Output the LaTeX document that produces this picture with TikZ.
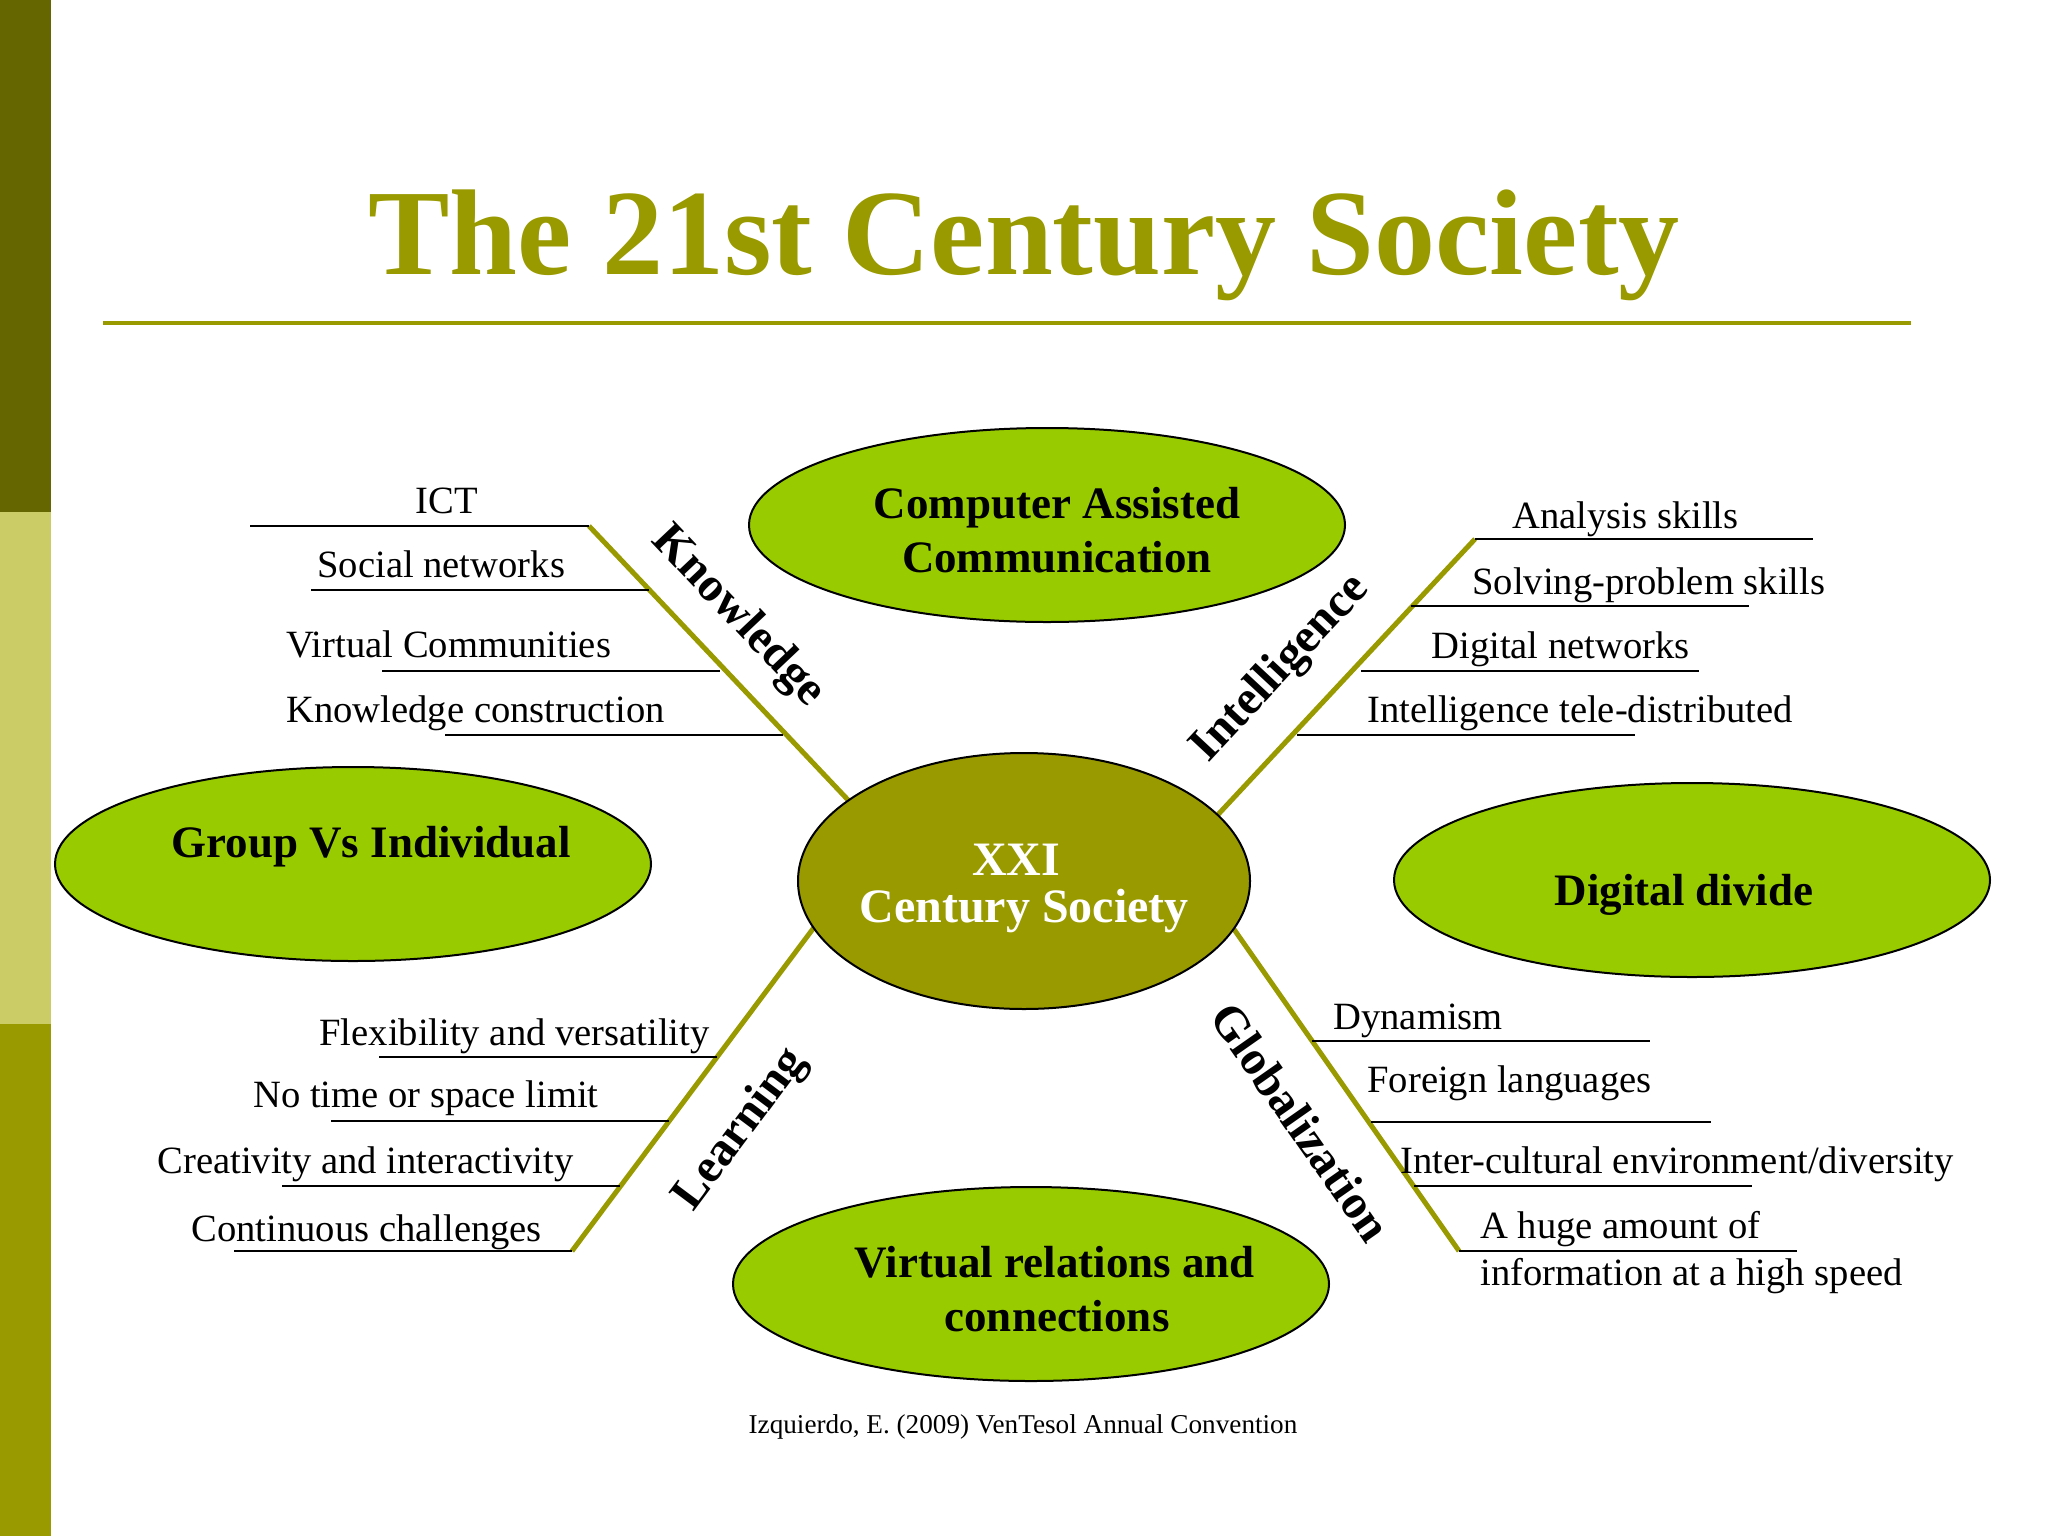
\documentclass[tikz,border=0pt]{standalone}
\usepackage{fontspec}
\setmainfont{Liberation Serif}
\usetikzlibrary{shapes.geometric}
\definecolor{bardark}{HTML}{666600}
\definecolor{barlight}{HTML}{CCCC66}
\definecolor{barmid}{HTML}{999900}
\definecolor{titlec}{HTML}{999900}
\definecolor{branchc}{HTML}{999900}
\definecolor{greenfill}{HTML}{99CC00}
\definecolor{centerfill}{HTML}{999900}
\begin{document}
\begin{tikzpicture}[x=0.5pt,y=-0.5pt,
  item/.style={font=\fontsize{19.3}{23}\selectfont, inner sep=0pt, anchor=base west},
  itemc/.style={font=\fontsize{19.3}{23}\selectfont, inner sep=0pt, anchor=base},
  lbl/.style={font=\fontsize{24}{28}\selectfont\bfseries, inner sep=0pt, anchor=center},
  etext/.style={font=\fontsize{22.5}{27}\selectfont\bfseries, inner sep=0pt, anchor=base},
  ctext/.style={font=\fontsize{24}{28}\selectfont\bfseries, text=white, inner sep=0pt, anchor=base},
  bubble/.style={ellipse, draw=black, line width=1pt, fill=greenfill, minimum width=298pt, minimum height=97pt, inner sep=0pt},
  branch/.style={draw=branchc, line width=2.5pt},
  uline/.style={draw=black, line width=1.2pt}
]
\useasboundingbox (0,0) rectangle (2048,1536);
\fill[white] (0,0) rectangle (2048,1536);
% side bar
\fill[bardark] (0,0) rectangle (51,512);
\fill[barlight] (0,512) rectangle (51,1024);
\fill[barmid] (0,1024) rectangle (51,1536);

% title
\node[font=\fontsize{61}{70}\selectfont\bfseries, text=titlec, inner sep=0pt, anchor=base] (title) at (1024,274) {The 21st Century Society};
\coordinate (ruleL) at (103,323);
\coordinate (ruleR) at (1911,323);
\draw[draw=titlec, line width=2pt] (ruleL) -- (ruleR);

% branch coordinates
\coordinate (kTop) at (589,526);
\coordinate (kIn) at (867,820);
\coordinate (iTop) at (1475,539);
\coordinate (iIn) at (1198,836);
\coordinate (lBot) at (572,1251);
\coordinate (lIn) at (830,906);
\coordinate (gBot) at (1459,1251);
\coordinate (gIn) at (1217,905);

\draw[branch] (kTop) -- (kIn);
\draw[branch] (iTop) -- (iIn);
\draw[branch] (lBot) -- (lIn);
\draw[branch] (gBot) -- (gIn);

% central ellipse
\node[ellipse, draw=black, line width=1pt, fill=centerfill, minimum width=226pt, minimum height=128pt, inner sep=0pt] (center) at (1024,881) {};
\node[ctext] (cxxi) at (1016,875) {XXI};
\node[ctext] (ccs) at (1024,922) {Century Society};

% outer ellipses
\node[bubble] (cac) at (1047,525) {};
\node[etext] (cac1) at (1057,518) {Computer Assisted};
\node[etext] (cac2) at (1057,572) {Communication};

\node[bubble] (gvi) at (353,864) {};
\node[etext] (gvit) at (371,857) {Group Vs Individual};

\node[bubble] (dd) at (1692,880) {};
\node[etext] (ddt) at (1684,905) {Digital divide};

\node[bubble] (vrc) at (1031,1284) {};
\node[etext] (vrc1) at (1055,1277) {Virtual relations and};
\node[etext] (vrc2) at (1057,1331) {connections};

% Knowledge underlines and items
\coordinate (k1a) at (250,526);
\coordinate (k2a) at (311,590);  \coordinate (k2b) at (649,590);
\coordinate (k3a) at (382,671);  \coordinate (k3b) at (720,671);
\coordinate (k4a) at (445,735);  \coordinate (k4b) at (783,735);
\draw[uline] (k1a) -- (kTop);
\draw[uline] (k2a) -- (k2b);
\draw[uline] (k3a) -- (k3b);
\draw[uline] (k4a) -- (k4b);
\node[itemc] (k1) at (447,513) {ICT};
\node[item] (k2) at (317,577) {Social networks};
\node[item] (k3) at (286,657) {Virtual Communities};
\node[item] (k4) at (286,722) {Knowledge construction};
\node[lbl, rotate=-46.6] (klbl) at (738,617) {Knowledge};

% Intelligence
\coordinate (i1b) at (1813,539);
\coordinate (i2a) at (1411,606);  \coordinate (i2b) at (1749,606);
\coordinate (i3a) at (1361,671);  \coordinate (i3b) at (1699,671);
\coordinate (i4a) at (1297,735);  \coordinate (i4b) at (1635,735);
\draw[uline] (iTop) -- (i1b);
\draw[uline] (i2a) -- (i2b);
\draw[uline] (i3a) -- (i3b);
\draw[uline] (i4a) -- (i4b);
\node[item] (i1) at (1512,528) {Analysis skills};
\node[item] (i2) at (1472,594) {Solving-problem skills};
\node[item] (i3) at (1431,658) {Digital networks};
\node[item] (i4) at (1367,722) {Intelligence tele-distributed};
\node[lbl, rotate=47] (ilbl) at (1281,669) {Intelligence};

% Learning
\coordinate (l1a) at (379,1057);  \coordinate (l1b) at (717,1057);
\coordinate (l2a) at (331,1121);  \coordinate (l2b) at (669,1121);
\coordinate (l3a) at (282,1186);  \coordinate (l3b) at (620,1186);
\coordinate (l4a) at (234,1251);
\draw[uline] (l1a) -- (l1b);
\draw[uline] (l2a) -- (l2b);
\draw[uline] (l3a) -- (l3b);
\draw[uline] (l4a) -- (lBot);
\node[item] (l1) at (319,1045) {Flexibility and versatility};
\node[item] (l2) at (253,1107) {No time or space limit};
\node[item] (l3) at (157,1173) {Creativity and interactivity};
\node[item] (l4) at (191,1241) {Continuous challenges};
\node[lbl, rotate=53.2] (llbl) at (741,1130) {Learning};

% Globalization
\coordinate (g1a) at (1312,1041);  \coordinate (g1b) at (1650,1041);
\coordinate (g2a) at (1371,1122);  \coordinate (g2b) at (1711,1122);
\coordinate (g3a) at (1414,1186);  \coordinate (g3b) at (1752,1186);
\coordinate (g4b) at (1797,1251);
\draw[uline] (g1a) -- (g1b);
\draw[uline] (g2a) -- (g2b);
\draw[uline] (g3a) -- (g3b);
\draw[uline] (gBot) -- (g4b);
\node[item] (g1) at (1333,1029) {Dynamism};
\node[item] (g2) at (1367,1092) {Foreign languages};
\node[item] (g3) at (1400,1173) {Inter-cultural environment/diversity};
\node[item] (g4) at (1480,1238) {A huge amount of};
\node[item] (g5) at (1480,1285) {information at a high speed};
\node[lbl, rotate=-55] (glbl) at (1301,1122) {Globalization};

% footer
\node[font=\fontsize{13.6}{16}\selectfont, inner sep=0pt, anchor=base] (foot) at (1023,1433) {Izquierdo, E. (2009) VenTesol Annual Convention};
\end{tikzpicture}
\end{document}
